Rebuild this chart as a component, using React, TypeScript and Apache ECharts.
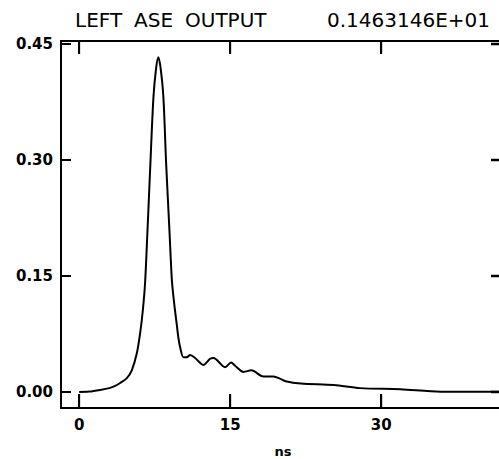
import React, { useEffect, useRef } from "react";
import * as echarts from "echarts";

const timeNs = [
  0, 1.0, 2.09, 3.0, 3.57, 4.07, 4.74, 5.23, 5.73, 6.06, 6.33, 6.55, 6.78, 7.05, 7.38, 7.65, 7.87,
  8.09, 8.37, 8.64, 8.97, 9.21, 9.43, 9.7, 9.86, 10.03, 10.36, 10.7, 11.02, 11.52, 12.34, 13.01,
  13.34, 14.5, 15.09, 15.49, 16.32, 17.1, 18.3, 19.3, 20.0, 20.5, 22.0, 25.3, 27.9, 31.9, 35.9, 41.7,
];
const aseOutput = [
  0, 0.0005, 0.0026, 0.005, 0.0078, 0.0116, 0.018, 0.028, 0.05, 0.076, 0.106, 0.141, 0.206, 0.287,
  0.381, 0.419, 0.433, 0.419, 0.381, 0.296, 0.209, 0.145, 0.116, 0.087, 0.07, 0.058, 0.045, 0.045,
  0.048, 0.044, 0.035, 0.043, 0.044, 0.032, 0.038, 0.034, 0.026, 0.028, 0.02, 0.02, 0.017, 0.014,
  0.011, 0.009, 0.005, 0.0035, 0.0004, 0.0004,
];
const xTicks = [0, 15, 30];
const yTicks = [0, 0.15, 0.3, 0.45];
const titleWords = ["LEFT", "ASE", "OUTPUT"];
const titleValue = "0.1463146E+01";
const xName = "ns";

const X_MIN = -1.8;
const X_MAX = 41.7;
const Y_MIN = -0.0207;
const Y_MAX = 0.4539;

export default function App() {
  const ref = useRef<HTMLDivElement>(null);
  useEffect(() => {
    const chart = echarts.init(ref.current!, null, { renderer: "svg" });
    const data = timeNs.map((t, i) => [t, aseOutput[i]]);
    const labelFont = () => ({
      color: "#000",
      fontSize: 15,
      fontWeight: "bold" as const,
      fontFamily: "DejaVu Sans",
    });
    const axisLine = (show: boolean) => ({
      show,
      onZero: false,
      lineStyle: { color: "#000", width: 2 },
    });
    // data units per screen pixel (plot box is 438 x 367 px)
    const XU = (X_MAX - X_MIN) / 438;
    const YU = (Y_MAX - Y_MIN) / 367;
    const tickSegments: any[] = [];
    xTicks.forEach((v) => {
      tickSegments.push([{ coord: [v, Y_MIN] }, { coord: [v, Y_MIN + 14 * YU] }]);
      tickSegments.push([{ coord: [v, Y_MAX] }, { coord: [v, Y_MAX - 13 * YU] }]);
    });
    yTicks.forEach((v) => {
      tickSegments.push([{ coord: [X_MIN, v] }, { coord: [X_MIN + 10 * XU, v] }]);
    });

    chart.setOption({
      animation: false,
      backgroundColor: "#fff",
      grid: { left: 61, right: 0, top: 41, bottom: 51, outerBoundsMode: "none" },
      xAxis: [
        {
          type: "value",
          position: "bottom",
          min: X_MIN,
          max: X_MAX,
          name: xName,
          nameLocation: "middle",
          nameGap: 37,
          nameTextStyle: { ...labelFont(), fontSize: 13, padding: [0, 0, 0, 6] },
          axisLine: axisLine(true),
          axisTick: { show: false },
          axisLabel: {
            ...labelFont(),
            customValues: xTicks,
            margin: 9,
            formatter: (v: number) => String(v),
          },
          splitLine: { show: false },
        },
        {
          type: "value",
          position: "top",
          min: X_MIN,
          max: X_MAX,
          axisLine: axisLine(true),
          axisTick: { show: false },
          axisLabel: { show: false },
          splitLine: { show: false },
        },
      ],
      yAxis: [
        {
          type: "value",
          position: "left",
          min: Y_MIN,
          max: Y_MAX,
          axisLine: axisLine(true),
          axisTick: { show: false },
          axisLabel: {
            ...labelFont(),
            customValues: yTicks,
            margin: 8,
            formatter: (v: number) => v.toFixed(2),
          },
          splitLine: { show: false },
        },
      ],
      series: [
        {
          type: "line",
          data,
          xAxisIndex: 0,
          yAxisIndex: 0,
          showSymbol: false,
          smooth: 0.3,
          clip: false,
          z: 5,
          lineStyle: { color: "#000", width: 2 },
          markLine: {
            silent: true,
            animation: false,
            symbol: ["none", "none"],
            label: { show: false },
            lineStyle: { color: "#000", width: 2, type: "solid" },
            emphasis: { disabled: true },
            data: tickSegments,
          },
        },
      ],
    });

    // tick marks, positioned through the axes' own scales
    const xPx = (v: number) => chart.convertToPixel({ xAxisIndex: 0 }, v) as number;
    const yPx = (v: number) => chart.convertToPixel({ yAxisIndex: 0 }, v) as number;
    const left = xPx(X_MIN);
    const right = xPx(X_MAX);
    const top = yPx(Y_MAX);
    const bottom = yPx(Y_MIN);
    const tickRect = (x: number, y: number, width: number, height: number) => ({
      type: "rect",
      silent: true,
      z: 100,
      shape: { x, y, width, height },
      style: { fill: "#000" },
    });
    const ticks: any[] = [];
    xTicks.forEach((v) => {
      const px = xPx(v);
      ticks.push(tickRect(px - 1, bottom - 14, 2, 14));
      ticks.push(tickRect(px - 1, top, 2, 13));
    });
    yTicks.forEach((v) => {
      const py = yPx(v);
      ticks.push(tickRect(left, py - 1, 10, 2));
      ticks.push(tickRect(right - 8, py - 1.25, 8, 2.5));
    });

    const titleFont = '20px "DejaVu Sans"';
    const wordX = [75, 134, 185];
    chart.setOption({
      graphic: [
        ...titleWords.map((w, i) => ({
          type: "text",
          x: wordX[i],
          y: 20,
          style: {
            text: w,
            font: titleFont,
            fill: "#000",
            textAlign: "left",
            textVerticalAlign: "middle",
          },
        })),
        {
          type: "text",
          x: 490,
          y: 20,
          style: {
            text: titleValue,
            font: titleFont,
            fill: "#000",
            textAlign: "right",
            textVerticalAlign: "middle",
          },
        },
        ...ticks,
      ],
    });
    return () => chart.dispose();
  }, []);
  return (
    <div
      ref={ref}
      style={{ position: "fixed", left: 0, top: 0, width: 499, height: 459, background: "#fff" }}
    />
  );
}
